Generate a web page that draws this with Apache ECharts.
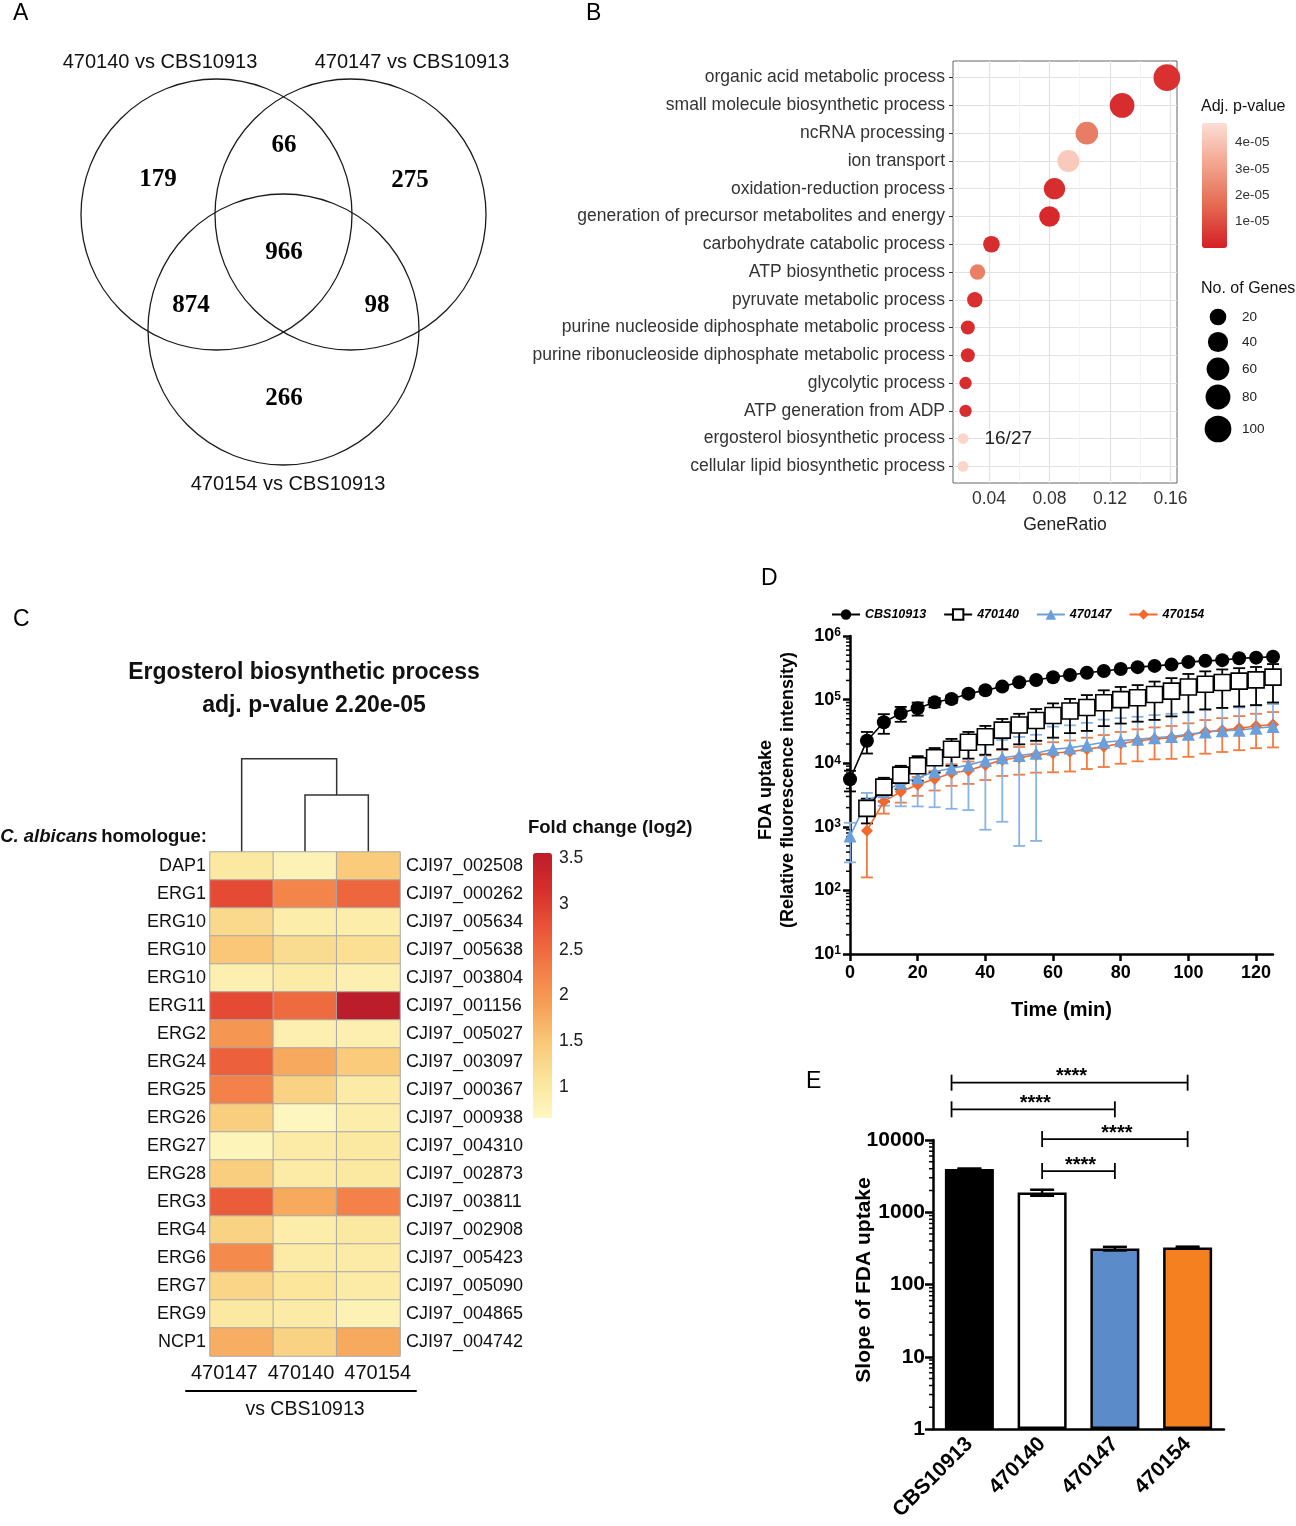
<!DOCTYPE html>
<html><head><meta charset="utf-8">
<script src="https://cdn.jsdelivr.net/npm/echarts@6/dist/echarts.min.js"></script>
<style>html,body{margin:0;padding:0;background:#fff}#c{width:1296px;height:1526px}</style>
</head><body><div id="c"></div>
<script>
// ================= DATA =================
// Panel A (Venn)
const vennSetNames = ['470140 vs CBS10913', '470147 vs CBS10913', '470154 vs CBS10913'];
const vennCounts = [179, 66, 275, 966, 874, 98, 266]; // only140, 140&147, only147, all, 140&154, 147&154, only154

// Panel B (GO dot plot)
const goTerms = ['organic acid metabolic process','small molecule biosynthetic process','ncRNA processing','ion transport',
  'oxidation-reduction process','generation of precursor metabolites and energy','carbohydrate catabolic process',
  'ATP biosynthetic process','pyruvate metabolic process','purine nucleoside diphosphate metabolic process',
  'purine ribonucleoside diphosphate metabolic process','glycolytic process','ATP generation from ADP',
  'ergosterol biosynthetic process','cellular lipid biosynthetic process'];
const geneRatio = [0.1576, 0.128, 0.1047, 0.0925, 0.0833, 0.080, 0.0416, 0.0324, 0.0306, 0.026, 0.026, 0.0245, 0.0245, 0.0229, 0.0229];
const adjP = [4e-6, 3e-6, 2.1e-5, 4.2e-5, 3e-6, 2e-6, 3e-6, 2.2e-5, 4e-6, 3e-6, 3e-6, 3e-6, 3e-6, 4.5e-5, 4.5e-5];
const geneCount = [100, 78, 59, 53, 48, 43, 20, 15, 15, 11, 11, 8, 8, 7, 7];
const geneRatioTicks = [0.04, 0.08, 0.12, 0.16];
const geneRatioMinor = [0.02, 0.06, 0.10, 0.14];
const pValueTicks = [1e-5, 2e-5, 3e-5, 4e-5];
const sizeBreaks = [20, 40, 60, 80, 100];
const ergAnnotation = '16/27';

// Panel C (heatmap)
const heatCols = ['470147', '470140', '470154'];
const homologues = ['DAP1','ERG1','ERG10','ERG10','ERG10','ERG11','ERG2','ERG24','ERG25','ERG26','ERG27','ERG28','ERG3','ERG4','ERG6','ERG7','ERG9','NCP1'];
const geneIds = ['CJI97_002508','CJI97_000262','CJI97_005634','CJI97_005638','CJI97_003804','CJI97_001156','CJI97_005027','CJI97_003097','CJI97_000367','CJI97_000938','CJI97_004310','CJI97_002873','CJI97_003811','CJI97_002908','CJI97_005423','CJI97_005090','CJI97_004865','CJI97_004742'];
const fc470147 = [1.0, 2.85, 1.25, 1.5, 0.85, 2.85, 2.0, 2.6, 2.25, 1.4, 0.75, 1.4, 2.65, 1.35, 2.15, 1.3, 1.0, 1.75];
const fc470140 = [0.8, 2.2, 0.9, 1.2, 0.95, 2.5, 0.85, 1.8, 1.35, 0.7, 0.95, 0.95, 1.8, 0.9, 0.95, 1.05, 0.95, 1.35];
const fc470154 = [1.45, 2.55, 0.9, 1.15, 0.85, 3.56, 0.85, 1.45, 0.95, 0.9, 1.0, 1.0, 2.25, 1.0, 0.95, 0.95, 0.8, 1.8];
const fcTicks = [1, 1.5, 2, 2.5, 3, 3.5];
const dendroMerges = [[1, 2, 0.61, 0, 0], [0, 1.5, 1.0, 0, 0.61]]; // left, right, height, leftChildH, rightChildH

// Panel D (FDA uptake time course)
const times = [0,5,10,15,20,25,30,35,40,45,50,55,60,65,70,75,80,85,90,95,100,105,110,115,120,125];
const cbsMean = [5600,22600,44000,60800,73000,90600,102000,124000,140000,160000,187000,203000,224000,244000,265000,282000,302000,324000,339000,355000,389000,407000,417000,447000,457000,473000];
const cbsSD   = [2000,8400,15000,16000,17000,15000,14000,15000,16000,16000,15000,15000,15000,15000,15000,15000,15000,15000,15000,15000,15000,15000,15000,15000,15000,15000];
const s140Mean = [null,1950,4200,6500,9100,12200,16600,21400,26100,33100,39800,46800,56200,66100,75000,89100,100000,107000,120000,136000,158000,174000,186000,195000,204000,226000];
const s140SD   = [null,820,1700,2600,3800,5100,7500,9600,12500,16500,20000,24300,31000,36400,42800,50800,58000,62000,72000,81600,95000,104000,112000,117000,122000,136000];
const s147Mean = [716,2510,3550,4900,5890,7330,8320,9330,11000,12200,13200,14300,16600,17400,19100,21400,22600,23700,25100,26300,28500,30900,32400,33100,35500,37600];
const s147SD   = [440,900,1400,2800,3800,5300,6400,7500,10100,11000,12700,13700,21000,22000,24000,27000,28500,30000,32000,33500,36000,39000,41000,42000,45000,47500];
const s154Mean = [null,870,2510,3550,4570,5620,7000,7670,9330,11200,12300,13500,14300,15100,16600,18200,20400,22400,24000,25100,27500,30900,33100,35500,38500,40700];
const s154SD   = [null,710,900,1150,1500,1900,2600,2950,3900,4900,5700,6400,7100,7700,8500,9500,10600,11700,12500,13400,14900,16800,18100,19500,21300,23000];
const timeTicks = [0, 20, 40, 60, 80, 100, 120];

// Panel E (slope bar chart)
const strains = ['CBS10913', '470140', '470147', '470154'];
const slopeMean = [3970, 1870, 314, 324];
const slopeSD = [60, 180, 18, 10];
const sigPairs = [[0, 3, '****'], [0, 2, '****'], [1, 3, '****'], [1, 2, '****']];

// ================= STYLE / LAYOUT =================
const SANS = '"Liberation Sans", Arial, Helvetica, sans-serif';
const SERIF = '"Liberation Serif", "Times New Roman", serif';
const vennCircles = [[216.5, 214.5], [350.5, 214.5], [283.5, 329.5]];
const vennR = 135.5;
const vennSetPos = [[160, 62], [412, 62], [288, 484]];
const vennCountPos = [[158, 180], [284, 146], [410, 181], [284, 253], [191, 306], [377, 306], [284, 399]];
const sigLevels = [62100, 26600, 10300, 3720];
const barColors = ['#000000', '#ffffff', '#5B8BC8', '#F4801F'];
const sizeLegendY = [317, 342, 369, 397, 429];

const sizeFn = n => 10.7 + 1.658 * Math.sqrt(Math.max(0, n - 7));
const pFmt = v => { const e = Math.floor(Math.log10(v) + 1e-9); const m = Math.round(v / Math.pow(10, e)); return m + 'e-' + String(-e).padStart(2, '0'); };

const chart = echarts.init(document.getElementById('c'), null, { renderer: 'canvas', width: 1296, height: 1526 });

// ---------- graphic (Venn, panel letters, titles, legends) ----------
const graphic = [];
const letters = [['A', 13, 2], ['B', 586, 2], ['C', 13, 608], ['D', 761, 567], ['E', 806, 1070]];
letters.forEach(l => graphic.push({ type: 'text', left: l[1], top: l[2], style: { text: l[0], font: '23px ' + SANS, fill: '#000' } }));
vennCircles.forEach(c => graphic.push({ type: 'circle', shape: { cx: c[0], cy: c[1], r: vennR }, style: { fill: 'none', stroke: '#1a1a1a', lineWidth: 1.3 } }));
vennSetNames.forEach((n, i) => graphic.push({ type: 'text', x: vennSetPos[i][0], y: vennSetPos[i][1], style: { text: n, font: '20px ' + SANS, fill: '#111', align: 'center', verticalAlign: 'middle' } }));
vennCounts.forEach((n, i) => graphic.push({ type: 'text', x: vennCountPos[i][0], y: vennCountPos[i][1], style: { text: String(n), font: 'bold 25px ' + SERIF, fill: '#000', align: 'center', verticalAlign: 'middle' } }));
// Panel B legend titles and size legend
graphic.push({ type: 'text', x: 1201, y: 107, style: { text: 'Adj. p-value', font: '16px ' + SANS, fill: '#111', verticalAlign: 'middle' } });
graphic.push({ type: 'text', x: 1201, y: 289, style: { text: 'No. of Genes', font: '16px ' + SANS, fill: '#111', verticalAlign: 'middle' } });
sizeBreaks.forEach((n, i) => {
  graphic.push({ type: 'circle', shape: { cx: 1218, cy: sizeLegendY[i], r: sizeFn(n) / 2 }, style: { fill: '#000' } });
  graphic.push({ type: 'text', x: 1242, y: sizeLegendY[i], style: { text: String(n), font: '13.5px ' + SANS, fill: '#222', verticalAlign: 'middle' } });
});
// Panel C texts
graphic.push({ type: 'text', x: 304, y: 673, style: { text: 'Ergosterol biosynthetic process', font: 'bold 23px ' + SANS, fill: '#111', align: 'center', verticalAlign: 'middle' } });
graphic.push({ type: 'text', x: 314, y: 706, style: { text: 'adj. p-value 2.20e-05', font: 'bold 23px ' + SANS, fill: '#111', align: 'center', verticalAlign: 'middle' } });
graphic.push({ type: 'text', x: 207, y: 837, style: { text: '{i|C. albicans} {b|homologue:}', align: 'right', verticalAlign: 'middle',
  rich: { i: { font: 'italic bold 18.5px ' + SANS, fill: '#111' }, b: { font: 'bold 18.5px ' + SANS, fill: '#111' } } } });
graphic.push({ type: 'text', x: 528, y: 828, style: { text: 'Fold change (log2)', font: 'bold 18.5px ' + SANS, fill: '#111', verticalAlign: 'middle' } });
graphic.push({ type: 'text', x: 305, y: 1410, style: { text: 'vs CBS10913', font: '19.5px ' + SANS, fill: '#111', align: 'center', verticalAlign: 'middle' } });
// Panel D y title
graphic.push({ type: 'text', x: 766, y: 790, rotation: Math.PI / 2, style: { text: 'FDA uptake', font: 'bold 18px ' + SANS, fill: '#000', align: 'center', verticalAlign: 'middle' } });
graphic.push({ type: 'text', x: 788, y: 790, rotation: Math.PI / 2, style: { text: '(Relative fluorescence intensity)', font: 'bold 18px ' + SANS, fill: '#000', align: 'center', verticalAlign: 'middle' } });
// Panel E y title
graphic.push({ type: 'text', x: 864, y: 1280, rotation: Math.PI / 2, style: { text: 'Slope of FDA uptake', font: 'bold 21px ' + SANS, fill: '#000', align: 'center', verticalAlign: 'middle' } });

// ---------- helpers ----------
const hidden = (gi, extra) => Object.assign({ gridIndex: gi, show: false }, extra || {});
function logMinorTicks(lo, hi) { const out = []; for (let e = lo; e < hi; e++) for (let m = 2; m <= 9; m++) out.push([0, m * Math.pow(10, e)]); return out; }
function minorTickRender(len) {
  return function (params, api) {
    const p = api.coord([0, api.value(1)]);
    const x0 = params.coordSys.x;
    return { type: 'line', shape: { x1: x0 - len, y1: p[1], x2: x0, y2: p[1] }, style: { stroke: '#000', lineWidth: 1.5 } };
  };
}
function errRender(color, cap, lw) {
  return function (params, api) {
    const t = api.value(0), v = api.value(1), sd = api.value(2);
    const c = api.coord([t, v]), hi = api.coord([t, v + sd]);
    const st = { stroke: color, lineWidth: lw };
    const ch = [
      { type: 'line', shape: { x1: c[0], y1: c[1], x2: hi[0], y2: hi[1] }, style: st },
      { type: 'line', shape: { x1: hi[0] - cap, y1: hi[1], x2: hi[0] + cap, y2: hi[1] }, style: st }
    ];
    if (v - sd > 0) {
      const lo = api.coord([t, v - sd]);
      ch.push({ type: 'line', shape: { x1: c[0], y1: c[1], x2: lo[0], y2: lo[1] }, style: st });
      ch.push({ type: 'line', shape: { x1: lo[0] - cap, y1: lo[1], x2: lo[0] + cap, y2: lo[1] }, style: st });
    }
    return { type: 'group', children: ch };
  };
}
const pairs = (mean, sd) => times.map((t, i) => [t, mean[i], sd[i]]).filter(d => d[1] != null);

// ---------- option ----------
const axisBold = (size) => ({ fontSize: size, fontWeight: 'bold', color: '#000', fontFamily: SANS });

const option = {
  animation: false,
  backgroundColor: '#fff',
  textStyle: { fontFamily: SANS },
  graphic: graphic,
  grid: [
    { left: 953, top: 61, width: 224, height: 422, show: true, borderColor: '#666', borderWidth: 1, backgroundColor: '#fff' }, // 0 B
    { left: 1202, top: 123, width: 25, height: 125 },  // 1 B colorbar labels
    { left: 210, top: 755, width: 190, height: 97 },   // 2 dendrogram
    { left: 210, top: 852, width: 190, height: 504 },  // 3 heatmap
    { left: 533, top: 853, width: 19, height: 265 },   // 4 C colorbar labels
    { left: 186, top: 1391, width: 230, height: 10 },  // 5 column labels
    { left: 850, top: 636, width: 423, height: 318 },  // 6 D
    { left: 933, top: 1140, width: 291, height: 289 }  // 7 E
  ],
  xAxis: [
    { gridIndex: 0, type: 'value', min: 0.0162, max: 0.1643, name: 'GeneRatio', nameLocation: 'middle', nameGap: 33,
      nameTextStyle: { fontSize: 17.5, color: '#222' },
      axisLine: { show: false }, axisTick: { show: true, length: 4, lineStyle: { color: '#333' }, customValues: geneRatioTicks },
      axisLabel: { fontSize: 17.5, color: '#333', margin: 7, customValues: geneRatioTicks, formatter: v => v.toFixed(2) },
      splitLine: { show: false } },
    hidden(1, { type: 'value', min: 0, max: 1 }),
    hidden(2, { type: 'value', min: -0.5, max: 2.5 }),
    { gridIndex: 3, type: 'category', data: heatCols, show: false },
    hidden(4, { type: 'value', min: 0, max: 1 }),
    { gridIndex: 5, type: 'category', data: heatCols, position: 'top',
      axisLine: { show: true, onZero: false, lineStyle: { color: '#000', width: 2 } }, axisTick: { show: false },
      axisLabel: { fontSize: 20, color: '#111', margin: 8, interval: 0 } },
    { gridIndex: 6, type: 'value', min: 0, max: 125, name: 'Time (min)', nameLocation: 'middle', nameGap: 46,
      nameTextStyle: axisBold(20),
      axisLine: { lineStyle: { color: '#000', width: 2.5 } },
      axisTick: { length: 7, lineStyle: { color: '#000', width: 2.5 }, customValues: timeTicks },
      axisLabel: Object.assign(axisBold(18), { margin: 10, customValues: timeTicks }),
      splitLine: { show: false } },
    { gridIndex: 7, type: 'category', data: strains,
      axisLine: { lineStyle: { color: '#000', width: 2.5 } },
      axisTick: { alignWithLabel: true, length: 8, lineStyle: { color: '#000', width: 2.5 } },
      axisLabel: Object.assign(axisBold(21), { rotate: 45, margin: 12, interval: 0 }) }
  ],
  yAxis: [
    { gridIndex: 0, type: 'value', inverse: true, min: -0.6, max: 14.6,
      axisLine: { show: false }, axisTick: { show: true, length: 4, lineStyle: { color: '#333' }, customValues: goTerms.map((_, i) => i) },
      axisLabel: { fontSize: 17.5, color: '#333', margin: 8, customValues: goTerms.map((_, i) => i), formatter: v => goTerms[Math.round(v)] },
      splitLine: { show: true, lineStyle: { color: '#e2e2e2', width: 1.2 } } },
    { gridIndex: 1, type: 'value', position: 'right', min: 0, max: 4.75e-5,
      axisLine: { show: false }, axisTick: { show: true, inside: true, length: 5, lineStyle: { color: '#fff', width: 1.2 }, customValues: pValueTicks },
      axisLabel: { fontSize: 13.5, color: '#333', margin: 8, customValues: pValueTicks, formatter: pFmt }, splitLine: { show: false } },
    { gridIndex: 1, type: 'value', position: 'left', min: 0, max: 4.75e-5,
      axisLine: { show: false }, axisTick: { show: true, inside: true, length: 5, lineStyle: { color: '#fff', width: 1.2 }, customValues: pValueTicks },
      axisLabel: { show: false, customValues: pValueTicks }, splitLine: { show: false } },
    hidden(2, { type: 'value', min: 0, max: 1.04 }),
    { gridIndex: 3, type: 'category', inverse: true, data: homologues.map((h, i) => i), position: 'left',
      axisLine: { show: false }, axisTick: { show: false },
      axisLabel: { fontSize: 18, color: '#111', margin: 4, interval: 0, formatter: v => homologues[+v] } },
    { gridIndex: 3, type: 'category', inverse: true, data: geneIds, position: 'right',
      axisLine: { show: false }, axisTick: { show: false },
      axisLabel: { fontSize: 18, color: '#111', margin: 6, interval: 0 } },
    { gridIndex: 4, type: 'value', position: 'right', min: 0.66, max: 3.56,
      axisLine: { show: false }, axisTick: { show: false, customValues: fcTicks },
      axisLabel: { fontSize: 17.5, color: '#222', margin: 7, customValues: fcTicks }, splitLine: { show: false } },
    hidden(5, { type: 'value', min: 0, max: 1 }),
    { gridIndex: 6, type: 'log', logBase: 10, min: 10, max: 1e6,
      axisLine: { show: true, lineStyle: { color: '#000', width: 2.5 } },
      axisTick: { show: true, length: 7, lineStyle: { color: '#000', width: 2.5 } },
      axisLabel: { margin: 9, formatter: v => '{b|10}{s|' + Math.round(Math.log10(v)) + '}',
        rich: { b: { fontSize: 18, fontWeight: 'bold', color: '#000', fontFamily: SANS }, s: { fontSize: 12, fontWeight: 'bold', color: '#000', verticalAlign: 'top', fontFamily: SANS } } },
      splitLine: { show: false } },
    { gridIndex: 7, type: 'log', logBase: 10, min: 1, max: 10000,
      axisLine: { show: true, lineStyle: { color: '#000', width: 2.5 } },
      axisTick: { show: true, length: 8, lineStyle: { color: '#000', width: 2.5 } },
      axisLabel: Object.assign(axisBold(21), { margin: 8, formatter: v => String(Math.round(v)) }),
      splitLine: { show: false } }
  ],
  visualMap: [
    { type: 'continuous', seriesIndex: 0, dimension: 2, min: 0, max: 4.75e-5, left: 1202, top: 123, itemWidth: 25, itemHeight: 125,
      calculable: false, padding: 0, inRange: { color: ['#d51f26', '#e4684f', '#f3a48e', '#fcded5'] } },
    { type: 'continuous', seriesIndex: 2, dimension: 2, min: 0.66, max: 3.56, left: 533, top: 853, itemWidth: 19, itemHeight: 265,
      calculable: false, padding: 0, inRange: { color: ['#FDF8C3', '#FBE59A', '#F9C878', '#F69F56', '#F27B46', '#E95537', '#D6302B', '#BC1D2B'] } }
  ],
  legend: {
    top: 603, left: 826, itemWidth: 28, itemHeight: 13, itemGap: 17,
    data: ['CBS10913', '470140', '470147', '470154'],
    textStyle: { fontSize: 12.5, fontStyle: 'italic', fontWeight: 'bold', color: '#000', fontFamily: SANS }
  },
  series: [
    // 0: B dot plot
    { type: 'scatter', xAxisIndex: 0, yAxisIndex: 0, z: 10,
      data: goTerms.map((g, i) => {
        const d = { value: [geneRatio[i], i, adjP[i], geneCount[i]] };
        if (g === 'ergosterol biosynthetic process') d.label = { show: true, formatter: ergAnnotation, position: 'right', distance: 16, fontSize: 19, color: '#222' };
        return d;
      }),
      symbolSize: v => sizeFn(v[3]), itemStyle: { opacity: 1 } },
    // 1: dendrogram
    { type: 'custom', xAxisIndex: 2, yAxisIndex: 3, data: dendroMerges,
      renderItem: (params, api) => {
        const a = api.coord([api.value(0), api.value(3)]), b = api.coord([api.value(0), api.value(2)]);
        const c = api.coord([api.value(1), api.value(2)]), d = api.coord([api.value(1), api.value(4)]);
        return { type: 'polyline', shape: { points: [a, b, c, d] }, style: { fill: 'none', stroke: '#333', lineWidth: 1.5 } };
      } },
    // 2: heatmap
    { type: 'heatmap', xAxisIndex: 3, yAxisIndex: 4,
      data: homologues.flatMap((h, r) => [[0, r, fc470147[r]], [1, r, fc470140[r]], [2, r, fc470154[r]]]),
      itemStyle: { borderColor: '#a8a8a8', borderWidth: 1 } },
    // 3-6: D error bars
    { type: 'custom', xAxisIndex: 6, yAxisIndex: 8, z: 2, data: pairs(s154Mean, s154SD), renderItem: errRender('#F47A3E', 6, 1.8) },
    { type: 'custom', xAxisIndex: 6, yAxisIndex: 8, z: 2, data: pairs(s147Mean, s147SD), renderItem: errRender('#8AB3E4', 6, 1.8) },
    { type: 'custom', xAxisIndex: 6, yAxisIndex: 8, z: 2, data: pairs(s140Mean, s140SD), renderItem: errRender('#000', 6, 1.8) },
    { type: 'custom', xAxisIndex: 6, yAxisIndex: 8, z: 2, data: pairs(cbsMean, cbsSD), renderItem: errRender('#000', 6, 1.8) },
    // 7-10: D lines
    { type: 'line', name: '470154', xAxisIndex: 6, yAxisIndex: 8, z: 3, data: pairs(s154Mean, s154SD).map(d => [d[0], d[1]]),
      symbol: 'diamond', symbolSize: 12, itemStyle: { color: '#F26A2B' }, lineStyle: { color: '#F26A2B', width: 1.6 } },
    { type: 'line', name: '470147', xAxisIndex: 6, yAxisIndex: 8, z: 3, data: pairs(s147Mean, s147SD).map(d => [d[0], d[1]]),
      symbol: 'triangle', symbolSize: 13, itemStyle: { color: '#6A9FDB' }, lineStyle: { color: '#6A9FDB', width: 1.6 } },
    { type: 'line', name: '470140', xAxisIndex: 6, yAxisIndex: 8, z: 3, data: pairs(s140Mean, s140SD).map(d => [d[0], d[1]]),
      symbol: 'rect', symbolSize: 16, itemStyle: { color: '#fff', borderColor: '#000', borderWidth: 1.6 }, lineStyle: { color: '#000', width: 1.6 } },
    { type: 'line', name: 'CBS10913', xAxisIndex: 6, yAxisIndex: 8, z: 4, data: pairs(cbsMean, cbsSD).map(d => [d[0], d[1]]),
      symbol: 'circle', symbolSize: 14, itemStyle: { color: '#000' }, lineStyle: { color: '#000', width: 1.6 } },
    // 11: D minor ticks
    { type: 'custom', xAxisIndex: 6, yAxisIndex: 8, data: logMinorTicks(1, 6), renderItem: minorTickRender(4), silent: true },
    // 12: E bars
    { type: 'bar', xAxisIndex: 7, yAxisIndex: 9, barWidth: 49,
      data: slopeMean.map((v, i) => ({ value: v, itemStyle: { color: barColors[i], borderColor: '#000', borderWidth: 2.5 } })) },
    // 13: E error bars
    { type: 'custom', xAxisIndex: 7, yAxisIndex: 9, z: 5, data: slopeMean.map((v, i) => [i, v, slopeSD[i]]),
      renderItem: (params, api) => {
        const i = api.value(0), v = api.value(1), sd = api.value(2);
        const hi = api.coord([i, v + sd]), lo = api.coord([i, v - sd]);
        const st = { stroke: '#000', lineWidth: 2.5 };
        return { type: 'group', children: [
          { type: 'line', shape: { x1: hi[0], y1: hi[1], x2: lo[0], y2: lo[1] }, style: st },
          { type: 'line', shape: { x1: hi[0] - 12, y1: hi[1], x2: hi[0] + 12, y2: hi[1] }, style: st },
          { type: 'line', shape: { x1: lo[0] - 12, y1: lo[1], x2: lo[0] + 12, y2: lo[1] }, style: st } ] };
      } },
    // 14: E significance brackets
    { type: 'custom', xAxisIndex: 7, yAxisIndex: 9, z: 5, data: sigPairs.map((p, k) => [p[0], p[1], sigLevels[k]]),
      renderItem: (params, api) => {
        const i = api.value(0), j = api.value(1), y = api.value(2);
        const band = api.size([1, 0])[0];
        const p1 = api.coord([i, y]), p2 = api.coord([j, y]);
        const x1 = p1[0] + (i === 0 ? -0.245 * band : 0), x2 = p2[0];
        const st = { stroke: '#000', lineWidth: 1.8 };
        const label = sigPairs[params.dataIndex][2];
        return { type: 'group', children: [
          { type: 'line', shape: { x1: x1, y1: p1[1], x2: x2, y2: p1[1] }, style: st },
          { type: 'line', shape: { x1: x1, y1: p1[1] - 8, x2: x1, y2: p1[1] + 8 }, style: st },
          { type: 'line', shape: { x1: x2, y1: p1[1] - 8, x2: x2, y2: p1[1] + 8 }, style: st },
          { type: 'text', x: (x1 + x2) / 2 + 2, y: p1[1] - 6, style: { text: label, font: 'bold 20px ' + SANS, fill: '#000', align: 'center', verticalAlign: 'middle' } } ] };
      } },
    // 15: E minor ticks
    { type: 'custom', xAxisIndex: 7, yAxisIndex: 9, data: logMinorTicks(0, 4), renderItem: minorTickRender(4), silent: true },
    // 16: B vertical grid lines (major + minor), drawn under the dots
    { type: 'line', xAxisIndex: 0, yAxisIndex: 0, z: 1, data: [], silent: true,
      markLine: { z: 1, silent: true, symbol: 'none', label: { show: false }, animation: false, emphasis: { disabled: true },
        data: geneRatioTicks.map(v => ({ xAxis: v, lineStyle: { color: '#e2e2e2', width: 1.2, type: 'solid' } }))
          .concat(geneRatioMinor.map(v => ({ xAxis: v, lineStyle: { color: '#f1f1f1', width: 0.8, type: 'solid' } }))) } }
  ]
};
chart.setOption(option);
</script>
</body></html>
